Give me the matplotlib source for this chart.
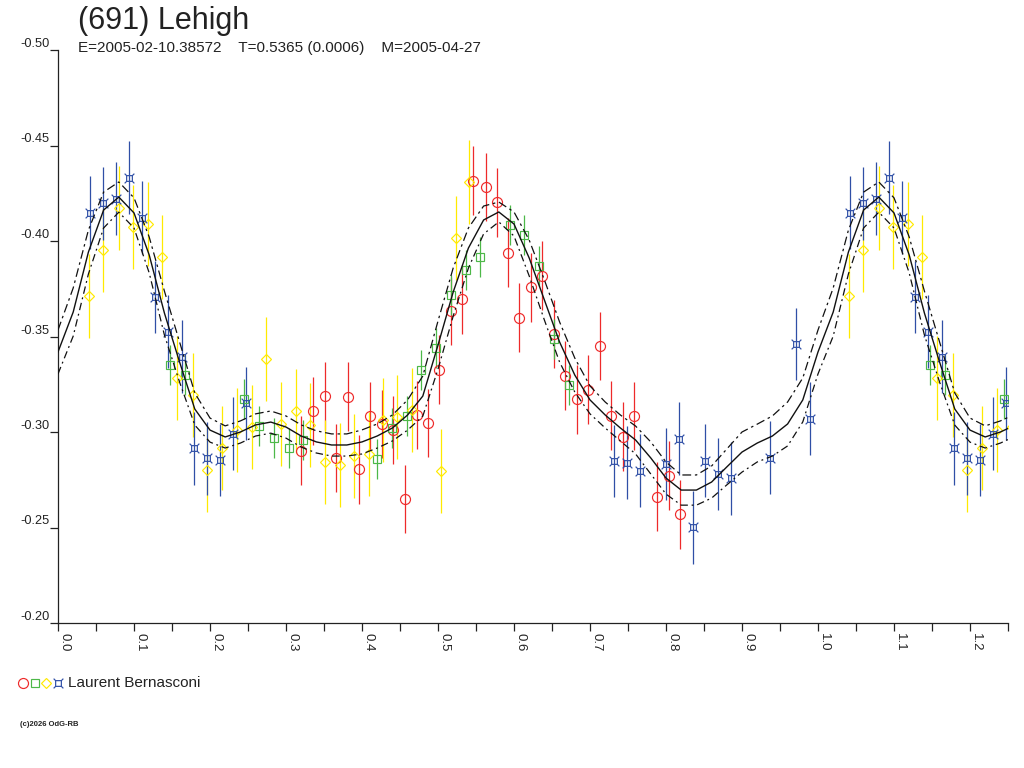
import numpy as np
import matplotlib
matplotlib.use("Agg")
import matplotlib.pyplot as plt
from matplotlib.path import Path
from matplotlib.lines import Line2D
from matplotlib.ticker import MultipleLocator

plt.rcParams['font.family'] = ['Liberation Sans', 'DejaVu Sans']

# ---------------- data ----------------
title = "(691) Lehigh"
subtitle = "E=2005-02-10.38572    T=0.5365 (0.0006)    M=2005-04-27"
observer = "Laurent Bernasconi"
credit = "(c)2026 OdG-RB"

y_ticks = [-0.50, -0.45, -0.40, -0.35, -0.30, -0.25, -0.20]
y_tick_labels = ["-0.50", "-0.45", "-0.40", "-0.35", "-0.30", "-0.25", "-0.20"]
x_ticks = [0.0, 0.1, 0.2, 0.3, 0.4, 0.5, 0.6, 0.7, 0.8, 0.9, 1.0, 1.1, 1.2]
x_tick_labels = ["0.0", "0.1", "0.2", "0.3", "0.4", "0.5", "0.6", "0.7", "0.8", "0.9", "1.0", "1.1", "1.2"]

fit_phase = [0.00, 0.02, 0.04, 0.06, 0.08, 0.10, 0.12, 0.14, 0.16, 0.18,
             0.20, 0.22, 0.24, 0.26, 0.28, 0.30, 0.32, 0.34, 0.36, 0.38,
             0.40, 0.42, 0.44, 0.46, 0.48, 0.50, 0.52, 0.54, 0.56, 0.58,
             0.60, 0.62, 0.64, 0.66, 0.68, 0.70, 0.72, 0.74, 0.76, 0.78,
             0.80, 0.82, 0.84, 0.86, 0.88, 0.90, 0.92, 0.94, 0.96, 0.98,
             1.00]
fit_mag = [-0.3419, -0.3628, -0.3942, -0.4162, -0.4230, -0.4147, -0.3927, -0.3623, -0.3366, -0.3120,
           -0.3010, -0.2974, -0.3000, -0.3037, -0.3052, -0.3026, -0.2979, -0.2948, -0.2932, -0.2932,
           -0.2948, -0.2979, -0.3021, -0.3089, -0.3188, -0.3455, -0.3733, -0.3963, -0.4110, -0.4152,
           -0.4089, -0.3911, -0.3691, -0.3471, -0.3298, -0.3168, -0.3089, -0.3021, -0.2958, -0.2864,
           -0.2759, -0.2696, -0.2696, -0.2738, -0.2817, -0.2895, -0.2942, -0.2979, -0.3042, -0.3168,
           -0.3419]
fit_band = [0.0115, 0.0126, 0.0115, 0.0094, 0.0079, 0.0079, 0.0094, 0.0115, 0.0105, 0.0084,
            0.0063, 0.0058, 0.0058, 0.0058, 0.0058, 0.0058, 0.0058, 0.0058, 0.0058, 0.0058,
            0.0063, 0.0063, 0.0068, 0.0079, 0.0105, 0.0126, 0.0126, 0.0105, 0.0073, 0.0052,
            0.0063, 0.0094, 0.0105, 0.0105, 0.0089, 0.0073, 0.0068, 0.0068, 0.0073, 0.0084,
            0.0084, 0.0079, 0.0079, 0.0084, 0.0094, 0.0105, 0.0099, 0.0105, 0.0115, 0.0115,
            0.0115]

# session 1 : red circles
red_phase = [0.3193, 0.3359, 0.3509, 0.3658, 0.3816, 0.3964, 0.4109, 0.4263, 0.4412, 0.4562,
             0.4724, 0.4862, 0.5011, 0.5167, 0.5320, 0.5464, 0.5628, 0.5772, 0.5917, 0.6070,
             0.6224, 0.6372, 0.6526, 0.6675, 0.6826, 0.6980, 0.7128, 0.7272, 0.7430, 0.7583,
             0.7888, 0.8037, 0.8184]
red_mag = [-0.2902, -0.3110, -0.3188, -0.2864, -0.3185, -0.2805, -0.3084, -0.3042, -0.3010, -0.2649,
           -0.3089, -0.3047, -0.3327, -0.3634, -0.3695, -0.4316, -0.4283, -0.4203, -0.3939, -0.3598,
           -0.3758, -0.3818, -0.3513, -0.3295, -0.3172, -0.3221, -0.3450, -0.3085, -0.2975, -0.3084,
           -0.2661, -0.2771, -0.2570]
red_err = 0.018

# session 2 : green squares
green_phase = [0.1478, 0.1675, 0.2447, 0.2649, 0.2838, 0.3036, 0.3220, 0.4201, 0.4395, 0.4592,
               0.4780, 0.4976, 0.5167, 0.5364, 0.5557, 0.5943, 0.6132, 0.6333, 0.6522, 0.6730]
green_mag = [-0.3349, -0.3300, -0.3173, -0.3030, -0.2970, -0.2918, -0.2958, -0.2857, -0.3023, -0.3085,
             -0.3323, -0.3441, -0.3719, -0.3848, -0.3918, -0.4085, -0.4033, -0.3871, -0.3488, -0.3246]
green_err = 0.0105

# session 3 : yellow diamonds
yellow_phase = [0.0408, 0.0596, 0.0799, 0.0991, 0.1188, 0.1372, 0.1570, 0.1772, 0.1964, 0.2162,
                0.2351, 0.2549, 0.2741, 0.2934, 0.3128, 0.3316, 0.3517, 0.3707, 0.3891, 0.4096,
                0.4280, 0.4457, 0.4662, 0.5043, 0.5241, 0.5412]
yellow_mag = [-0.3714, -0.3953, -0.4171, -0.4075, -0.4087, -0.3915, -0.3284, -0.3192, -0.2801, -0.2918,
              -0.3010, -0.3025, -0.3384, -0.3042, -0.3110, -0.3037, -0.2845, -0.2827, -0.2876, -0.2886,
              -0.3063, -0.3080, -0.3115, -0.2794, -0.4014, -0.4310]
yellow_err = 0.022

# session 4 : blue crosses
blue_phase = [0.0425, 0.0592, 0.0763, 0.0938, 0.1109, 0.1276, 0.1451, 0.1628, 0.1786, 0.1964,
              0.2132, 0.2299, 0.2474, 0.7320, 0.7491, 0.7654, 0.7996, 0.8167, 0.8349, 0.8517,
              0.8680, 0.8859, 0.9372, 0.9711, 0.9895]
blue_mag = [-0.4148, -0.4197, -0.4221, -0.4331, -0.4122, -0.3707, -0.3525, -0.3394, -0.2915, -0.2862,
            -0.2853, -0.2992, -0.3150, -0.2848, -0.2839, -0.2797, -0.2832, -0.2965, -0.2501, -0.2850,
            -0.2780, -0.2758, -0.2865, -0.3461, -0.3070]
blue_err = 0.019

# ---------------- styles ----------------
RED = '#EE2A2A'
GREEN = '#4DB848'
YELLOW = '#FFEA00'
BLUE = '#2F4FA6'

verts = [(-0.5, -0.5), (0.5, -0.5), (0.5, 0.5), (-0.5, 0.5), (-0.5, -0.5),
         (0.5, 0.5), (0.85, 0.85), (-0.5, 0.5), (-0.85, 0.85),
         (0.5, -0.5), (0.85, -0.85), (-0.5, -0.5), (-0.85, -0.85)]
codes = [Path.MOVETO, Path.LINETO, Path.LINETO, Path.LINETO, Path.CLOSEPOLY,
         Path.MOVETO, Path.LINETO, Path.MOVETO, Path.LINETO,
         Path.MOVETO, Path.LINETO, Path.MOVETO, Path.LINETO]
cross_marker = Path(verts, codes)

series = [
    (red_phase, red_mag, red_err, RED, 'o', 7.2),
    (green_phase, green_mag, green_err, GREEN, 's', 6.0),
    (yellow_phase, yellow_mag, yellow_err, YELLOW, 'D', 5.0),
    (blue_phase, blue_mag, blue_err, BLUE, cross_marker, 7.0),
]

W, H = 1024, 768
fig = plt.figure(figsize=(W / 100, H / 100), dpi=100)
fig.patch.set_facecolor('white')
ax = fig.add_axes([58 / W, 1 - 623 / H, 950 / W, 573 / H])
ax.set_facecolor('white')

XMAX = 1.25


def extend(ph, mg):
    ph = np.asarray(ph, float)
    mg = np.asarray(mg, float)
    sel = ph <= XMAX - 1.0 + 0.02
    return np.concatenate([ph, ph[sel] + 1.0]), np.concatenate([mg, mg[sel]])


for ph, mg, err, col, mk, ms in series:
    x, y = extend(ph, mg)
    ax.errorbar(x, y, yerr=err, fmt='none', ecolor=col, elinewidth=0.9, capsize=0, zorder=2)
    ax.plot(x, y, linestyle='none', marker=mk, markersize=ms, markerfacecolor='none',
            markeredgecolor=col, markeredgewidth=0.85, zorder=3)

fp = np.asarray(fit_phase, float)
fm = np.asarray(fit_mag, float)
fb = np.asarray(fit_band, float)
sel = fp > 0
fx = np.concatenate([fp, fp[sel] + 1.0])
fy = np.concatenate([fm, fm[sel]])
fbb = np.concatenate([fb, fb[sel]])
keep = fx <= XMAX + 0.03
fx, fy, fbb = fx[keep], fy[keep], fbb[keep]

ax.plot(fx, fy, color='#111111', lw=1.0, zorder=4)
ax.plot(fx, fy - fbb, color='#111111', lw=0.9, linestyle=(0, (7, 3, 2, 3)), zorder=4)
ax.plot(fx, fy + fbb, color='#111111', lw=0.9, linestyle=(0, (6, 3, 1.5, 3)), zorder=4)

ax.set_xlim(0, XMAX)
ax.set_ylim(-0.20, -0.50)

for s in ['top', 'right']:
    ax.spines[s].set_visible(False)
for s in ['left', 'bottom']:
    ax.spines[s].set_color('#222222')
    ax.spines[s].set_linewidth(0.9)

ax.set_yticks(y_ticks, labels=y_tick_labels, va='bottom')
ax.set_xticks(x_ticks, labels=x_tick_labels, rotation=-90, ha='left', va='top')
ax.xaxis.set_minor_locator(MultipleLocator(0.05))
ax.tick_params(axis='y', which='major', direction='out', length=6, width=0.9,
               pad=0, labelsize=9.2, colors='#222222')
ax.tick_params(axis='x', which='both', direction='out', length=6, width=0.9,
               pad=1.5, labelsize=9.5, colors='#222222')

# texts
fig.text(78 / W, 1 - 21 / H, title, fontsize=22, va='center', ha='left', color='#222222')
fig.text(78 / W, 1 - 48 / H, subtitle, fontsize=11, va='center', ha='left', color='#222222')
fig.text(68 / W, 1 - 683 / H, observer, fontsize=11, va='center', ha='left', color='#222222')
fig.text(20 / W, 1 - 724 / H, credit, fontsize=5.5, va='center', ha='left', color='#222222',
         fontweight='bold')

legend_marks = [(23, RED, 'o', 7.2), (35, GREEN, 's', 6.0), (46, YELLOW, 'D', 5.0), (58, BLUE, cross_marker, 7.0)]
for px, col, mk, ms in legend_marks:
    fig.add_artist(Line2D([px / W], [1 - 683 / H], transform=fig.transFigure, linestyle='none',
                          marker=mk, markersize=ms, markerfacecolor='none',
                          markeredgecolor=col, markeredgewidth=0.85))

fig.savefig('out.png', dpi=100, facecolor='white')
